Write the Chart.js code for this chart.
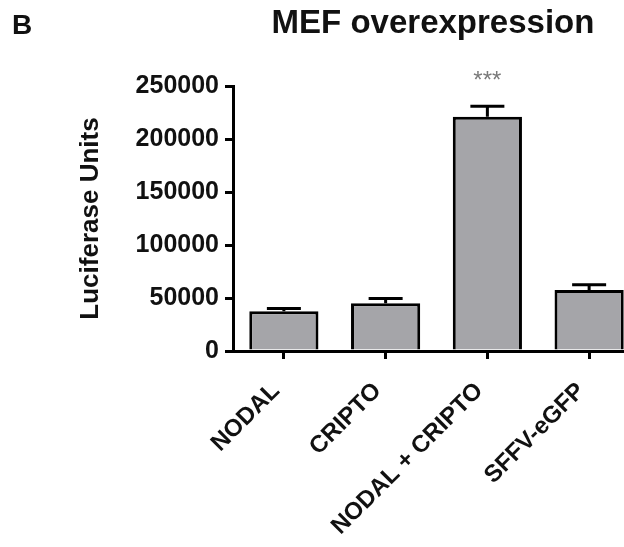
<!DOCTYPE html>
<html>
<head>
<meta charset="utf-8">
<script src="https://cdn.jsdelivr.net/npm/chart.js@4.4.0/dist/chart.umd.min.js"></script>
<style>
  html, body { margin: 0; padding: 0; background: #fff; overflow: hidden; }
  #wrap { width: 624px; height: 547px; overflow: hidden; }
</style>
</head>
<body>
<div id="wrap"><canvas id="chart" width="640" height="547"></canvas></div>
<script>
const categories = ['NODAL', 'CRIPTO', 'NODAL + CRIPTO', 'SFFV-eGFP'];
const luciferase = [37500, 45000, 221000, 57500];
const errors = [2500, 4500, 10000, 5000];
const significance = ['', '', '***', ''];
const yTicks = [0, 50000, 100000, 150000, 200000, 250000];

const FONT = '"Liberation Sans", Arial, sans-serif';

// error bars, asterisks, panel letter and title
const extras = {
    id: 'extras',
    afterDatasetsDraw(chart) {
        const ctx = chart.ctx;
        const yScale = chart.scales.y;
        const meta = chart.getDatasetMeta(0);
        ctx.save();
        ctx.strokeStyle = '#000';
        ctx.lineWidth = 3;
        meta.data.forEach((bar, i) => {
            const capY = yScale.getPixelForValue(luciferase[i] + errors[i]);
            ctx.beginPath();
            ctx.moveTo(bar.x, bar.y);
            ctx.lineTo(bar.x, capY);
            ctx.moveTo(bar.x - 17, capY);
            ctx.lineTo(bar.x + 17, capY);
            ctx.stroke();
            if (significance[i]) {
                ctx.fillStyle = '#7a7a7a';
                ctx.font = '24px ' + FONT;
                ctx.textAlign = 'center';
                ctx.textBaseline = 'alphabetic';
                ctx.fillText(significance[i], bar.x, capY - 18);
            }
        });
        ctx.restore();
    },
    afterDraw(chart) {
        const ctx = chart.ctx;
        ctx.save();
        ctx.fillStyle = '#111';
        ctx.textBaseline = 'alphabetic';
        ctx.font = 'bold 28px ' + FONT;
        ctx.textAlign = 'left';
        ctx.fillText('B', 12, 34);
        ctx.font = 'bold 33px ' + FONT;
        ctx.textAlign = 'center';
        ctx.fillText('MEF overexpression', 433, 33);
        ctx.restore();
    }
};

new Chart(document.getElementById('chart'), {
    type: 'bar',
    data: {
        labels: categories,
        datasets: [{
            data: luciferase,
            backgroundColor: '#a5a5a9',
            borderColor: '#000',
            borderWidth: 3,
            barPercentage: 0.68,
            categoryPercentage: 1
        }]
    },
    options: {
        responsive: false,
        animation: false,
        layout: { padding: { top: 86, left: 0, right: 0, bottom: 0 } },
        plugins: {
            legend: { display: false },
            tooltip: { enabled: false }
        },
        scales: {
            x: {
                afterFit: (scale) => { scale.height = 196; },
                grid: {
                    offset: false,
                    drawOnChartArea: false,
                    drawTicks: true,
                    tickLength: 8,
                    color: '#000',
                    lineWidth: 3
                },
                border: { display: true, color: '#000', width: 3 },
                ticks: {
                    color: '#111',
                    font: { family: FONT, size: 24, weight: 'bold' },
                    minRotation: 45,
                    maxRotation: 45,
                    labelOffset: -8,
                    padding: 18
                }
            },
            y: {
                min: 0,
                max: 250000,
                afterFit: (scale) => { scale.width = 233; },
                afterBuildTicks: (scale) => { scale.ticks = yTicks.map(v => ({ value: v })); },
                grid: {
                    drawOnChartArea: false,
                    drawTicks: true,
                    tickLength: 8,
                    color: '#000',
                    lineWidth: 3
                },
                border: { display: true, color: '#000', width: 3 },
                ticks: {
                    color: '#111',
                    font: { family: FONT, size: 25, weight: 'bold' },
                    padding: 6,
                    callback: (v) => String(v)
                },
                title: {
                    display: true,
                    text: 'Luciferase Units',
                    color: '#111',
                    font: { family: FONT, size: 26, weight: 'bold' },
                    padding: { top: 75, bottom: 0 }
                }
            }
        }
    },
    plugins: [extras]
});
</script>
</body>
</html>
